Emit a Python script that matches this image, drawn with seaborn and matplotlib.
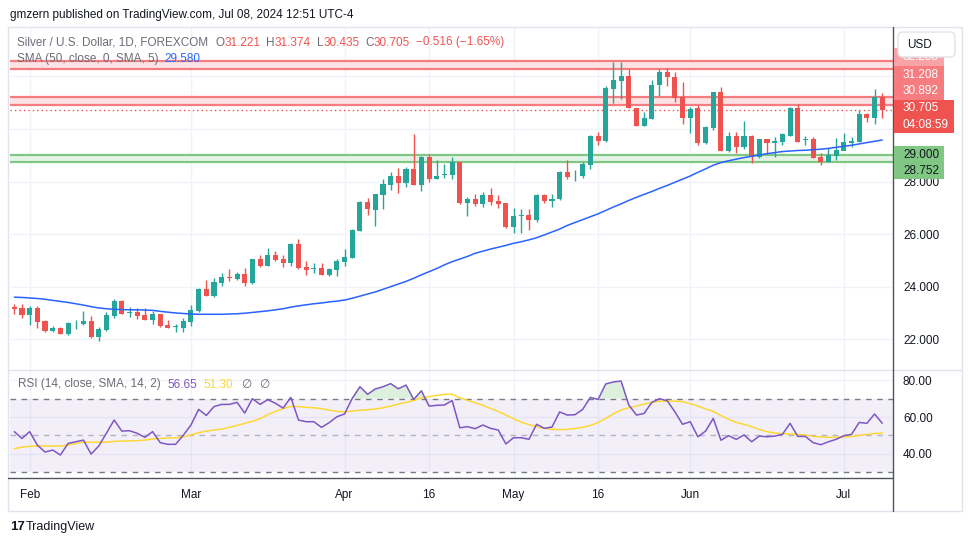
# Silver / USD daily chart - TradingView style remake

import numpy as np
import pandas as pd
import matplotlib
matplotlib.use("Agg")
import matplotlib.pyplot as plt
from matplotlib.patches import Rectangle, FancyBboxPatch
from matplotlib.ticker import FormatStrFormatter, FuncFormatter
import seaborn as sns

# ---------------------------
# Data (daily bars, Jan 30 - Jul 08 2024)
# ---------------------------

opens = [23.24, 23.20, 22.92, 23.20, 22.69, 22.31, 22.44, 22.20, 22.60, 22.58,
         22.69, 22.10, 22.36, 22.87, 23.44, 22.99, 23.04, 22.92, 22.75, 22.96,
         22.56, 22.47, 22.44, 22.67, 23.09, 23.91, 23.65, 24.15, 24.36, 24.29,
         24.47, 24.15, 25.05, 24.79, 25.19, 25.05, 24.91, 25.62, 24.75, 24.67,
         24.70, 24.46, 24.65, 24.95, 25.10, 26.13, 27.23, 26.93, 27.50, 27.88,
         28.21, 27.95, 28.47, 27.88, 28.93, 28.09, 28.26, 28.24, 28.73, 27.19,
         27.33, 27.14, 27.48, 27.26, 27.18, 26.27, 26.69, 26.72, 26.53, 27.47,
         27.25, 27.32, 28.38, 28.23, 28.20, 28.61, 29.72, 29.56, 31.52, 31.84,
         32.03, 30.81, 30.13, 30.37, 31.67, 32.15, 31.99, 31.20, 30.41, 30.78,
         29.47, 30.03, 31.39, 29.16, 29.75, 29.31, 29.75, 28.95, 29.60, 29.46,
         29.52, 29.75, 30.78, 29.57, 29.60, 28.95, 28.76, 28.97, 29.16, 29.46,
         29.52, 30.55, 30.41, 31.221]
highs = [23.33, 23.33, 23.25, 23.25, 22.73, 22.49, 22.47, 22.65, 22.72, 23.07,
         22.90, 22.45, 23.02, 23.54, 23.49, 23.21, 23.18, 23.18, 23.06, 22.97,
         22.73, 22.57, 22.82, 23.30, 23.94, 24.25, 24.33, 24.51, 24.66, 24.56,
         24.71, 25.05, 25.19, 25.47, 25.36, 25.19, 25.67, 25.81, 24.98, 24.89,
         24.90, 24.70, 25.04, 25.43, 26.21, 27.25, 27.37, 27.54, 28.11, 28.36,
         28.52, 28.55, 29.82, 28.97, 29.04, 28.82, 28.67, 28.95, 28.75, 27.42,
         27.51, 27.60, 27.74, 27.48, 27.20, 26.99, 26.94, 26.94, 27.54, 27.54,
         27.53, 28.39, 28.80, 28.42, 28.73, 29.77, 29.89, 31.62, 32.56, 32.56,
         32.28, 30.81, 30.66, 31.87, 32.28, 32.32, 32.15, 31.80, 30.85, 30.91,
         30.10, 31.39, 31.59, 29.87, 29.90, 30.29, 29.77, 29.62, 29.62, 29.71,
         29.83, 30.83, 30.93, 29.75, 29.70, 29.10, 29.27, 29.66, 29.85, 29.71,
         30.73, 30.62, 31.53, 31.374]
lows = [22.97, 22.81, 22.54, 22.44, 22.28, 22.26, 22.20, 22.16, 22.40, 22.56,
        22.04, 21.95, 22.33, 22.81, 22.95, 22.86, 22.77, 22.73, 22.58, 22.47,
        22.44, 22.29, 22.29, 22.52, 23.05, 23.66, 23.62, 24.03, 24.23, 24.25,
        24.03, 24.10, 24.74, 24.79, 24.98, 24.75, 24.80, 24.66, 24.44, 24.53,
        24.43, 24.41, 24.42, 24.79, 25.08, 26.10, 26.74, 26.32, 26.94, 27.67,
        27.57, 27.80, 27.86, 27.65, 27.98, 28.08, 28.15, 28.09, 27.15, 26.70,
        27.07, 27.04, 27.10, 26.99, 26.25, 26.05, 26.05, 26.15, 26.47, 27.19,
        27.03, 27.31, 28.08, 28.01, 28.13, 28.47, 29.39, 29.49, 30.99, 31.14,
        30.78, 30.10, 30.10, 30.37, 31.27, 31.65, 31.04, 30.20, 29.84, 29.39,
        29.44, 29.97, 29.16, 29.12, 29.08, 29.24, 28.70, 28.88, 29.05, 28.95,
        29.40, 29.74, 29.49, 29.40, 28.89, 28.63, 28.74, 28.80, 29.23, 29.31,
        29.52, 30.26, 30.20, 30.435]
closes = [23.16, 22.92, 23.20, 22.67, 22.31, 22.42, 22.21, 22.62, 22.62, 22.69,
          22.10, 22.39, 22.92, 23.45, 22.97, 23.04, 22.90, 22.73, 22.96, 22.50,
          22.44, 22.49, 22.69, 23.11, 23.91, 23.66, 24.18, 24.35, 24.34, 24.47,
          24.15, 25.05, 24.79, 25.19, 25.01, 24.90, 25.62, 24.71, 24.63, 24.70,
          24.46, 24.67, 24.98, 25.12, 26.15, 27.23, 26.94, 27.52, 27.92, 28.21,
          27.95, 28.47, 27.88, 28.93, 28.09, 28.21, 28.28, 28.73, 27.19, 27.33,
          27.14, 27.48, 27.23, 27.16, 26.27, 26.69, 26.72, 26.53, 27.48, 27.25,
          27.34, 28.38, 28.16, 28.25, 28.65, 29.72, 29.56, 31.54, 31.87, 32.03,
          30.78, 30.13, 30.41, 31.68, 32.15, 31.96, 31.16, 30.41, 30.76, 29.47,
          30.06, 31.39, 29.16, 29.75, 29.31, 29.75, 28.95, 29.60, 29.46, 29.56,
          29.79, 30.78, 29.52, 29.60, 28.91, 28.76, 28.99, 29.18, 29.50, 29.56,
          30.55, 30.41, 31.221, 30.705]

sma50 = [23.60, 23.59, 23.57, 23.55, 23.52, 23.48, 23.44, 23.40, 23.35, 23.30,
         23.24, 23.19, 23.16, 23.14, 23.13, 23.12, 23.12, 23.11, 23.10, 23.06,
         23.03, 23.00, 22.98, 22.96, 22.95, 22.95, 22.95, 22.95, 22.96, 22.97,
         22.99, 23.02, 23.05, 23.08, 23.12, 23.16, 23.22, 23.27, 23.31, 23.35,
         23.38, 23.42, 23.45, 23.49, 23.56, 23.64, 23.72, 23.80, 23.90, 24.00,
         24.10, 24.20, 24.32, 24.45, 24.57, 24.69, 24.83, 24.95, 25.05, 25.15,
         25.27, 25.35, 25.43, 25.50, 25.57, 25.65, 25.71, 25.78, 25.86, 25.97,
         26.08, 26.19, 26.33, 26.44, 26.55, 26.66, 26.77, 26.90, 27.03, 27.15,
         27.28, 27.40, 27.51, 27.62, 27.74, 27.85, 27.97, 28.09, 28.21, 28.35,
         28.48, 28.62, 28.72, 28.79, 28.85, 28.91, 28.96, 29.01, 29.06, 29.10,
         29.14, 29.16, 29.18, 29.19, 29.21, 29.23, 29.26, 29.30, 29.34, 29.38,
         29.43, 29.48, 29.53, 29.58]

rsi = [52.1, 48.4, 52.1, 44.8, 41.0, 42.1, 39.4, 45.7, 46.6, 47.5,
       39.9, 44.3, 51.3, 58.4, 52.4, 52.6, 51.2, 49.0, 52.1, 46.1,
       45.2, 45.2, 50.1, 55.7, 64.2, 60.9, 65.7, 66.9, 66.9, 68.0,
       62.2, 70.0, 66.9, 69.5, 67.5, 64.9, 70.7, 58.4, 57.5, 57.5,
       54.4, 57.0, 60.2, 61.7, 70.2, 76.5, 72.4, 75.3, 76.5, 78.2,
       75.4, 77.4, 69.6, 74.3, 66.0, 66.4, 66.6, 69.0, 54.2, 54.8,
       53.7, 55.7, 53.9, 53.0, 45.4, 48.8, 48.8, 47.9, 56.1, 53.9,
       54.6, 62.8, 61.1, 61.3, 64.2, 70.7, 69.6, 78.0, 79.1, 79.6,
       66.6, 61.1, 62.0, 68.0, 70.0, 68.9, 62.9, 56.1, 57.5, 49.3,
       52.4, 59.3, 47.4, 49.9, 47.9, 50.3, 46.6, 49.7, 49.3, 49.7,
       50.6, 56.6, 49.5, 49.5, 46.1, 45.0, 46.6, 47.9, 49.9, 50.6,
       57.1, 56.6, 61.7, 56.65]

rsi_sma = [42.8, 43.7, 44.1, 44.3, 44.3, 44.3, 44.3, 44.8, 45.7, 46.4,
           46.4, 46.3, 46.4, 46.8, 47.0, 47.0, 47.2, 47.5, 48.1, 48.4,
           48.6, 48.8, 49.2, 50.3, 51.5, 52.4, 53.0, 53.5, 54.4, 55.5,
           56.6, 57.7, 59.1, 61.3, 63.1, 64.6, 65.8, 65.7, 65.3, 65.1,
           64.6, 63.8, 63.1, 62.8, 63.3, 63.7, 64.0, 64.4, 65.1, 66.0,
           67.1, 68.0, 69.1, 70.4, 71.1, 71.8, 72.4, 72.4, 70.5, 69.1,
           67.8, 66.4, 64.7, 63.1, 61.1, 59.1, 57.3, 55.9, 54.8, 53.9,
           53.3, 53.2, 53.3, 53.9, 54.4, 55.5, 57.0, 59.3, 61.8, 63.8,
           65.1, 66.0, 67.1, 68.0, 68.6, 68.7, 68.7, 68.4, 67.3, 66.0,
           64.4, 63.1, 60.8, 58.8, 57.1, 56.1, 54.8, 53.3, 52.1, 51.3,
           51.0, 50.8, 50.6, 50.3, 49.5, 49.2, 49.0, 49.0, 49.2, 49.5,
           50.1, 50.6, 51.1, 51.30]

tick_bars = [2, 23, 43, 54, 65, 76, 88, 108]
tick_labels = ["Feb", "Mar", "Apr", "16", "May", "16", "Jun", "Jul"]
price_ticks = [22, 24, 26, 28, 30, 32]
hidden_price_ticks = [30, 32]   # covered by the price tags on the axis

red_zone_top = [32.288, 32.58]
red_zone_mid = [30.892, 31.208]
green_zone = [28.752, 29.000]
last_close = 30.705

# ---------------------------
# Colours
# ---------------------------
GREEN = "#26a69a"
RED = "#ef5350"
BLUE = "#2962ff"
PURPLE = "#7e57c2"
YELLOW = "#fdd835"
TXT = "#131722"
GREY = "#6a6d78"
GRID = "#f0f3fa"

df = pd.DataFrame({"open": opens, "high": highs, "low": lows, "close": closes,
                   "sma50": sma50, "rsi": rsi, "rsi_sma": rsi_sma})
df["i"] = np.arange(len(df))

sns.set_theme(style="white")
plt.rcParams["font.family"] = ["Liberation Sans", "DejaVu Sans"]

W, H = 970, 545
fig = plt.figure(figsize=(W / 100, H / 100), dpi=100)


def box(l, t, r, b):
    return [l / W, 1 - b / H, (r - l) / W, (b - t) / H]


ax = fig.add_axes(box(10, 28, 893, 370))
ax_rsi = fig.add_axes(box(10, 370, 893, 478))

# ---------------------------
# Price pane
# ---------------------------
for lo, hi, fc, ec in [(red_zone_top[0], red_zone_top[1], "#fde3e4", "#f77c80"),
                       (red_zone_mid[0], red_zone_mid[1], "#fde3e4", "#f77c80"),
                       (green_zone[0], green_zone[1], "#e6f4e7", "#81c784")]:
    ax.axhspan(lo, hi, color=fc, lw=0, zorder=1)
    ax.axhline(lo, color=ec, lw=1.6, zorder=2)
    ax.axhline(hi, color=ec, lw=1.6, zorder=2)

ax.axhline(last_close, color=RED, lw=1, ls=(0, (1, 2.2)), zorder=2)

up = df["close"] >= df["open"]
colors = np.where(up, GREEN, RED)
ax.vlines(df["i"], df["low"], df["high"], colors=colors, lw=1, zorder=3)
body = (df["close"] - df["open"]).abs().clip(lower=0.03)
ax.bar(df["i"], body, bottom=df[["open", "close"]].min(axis=1), width=0.66,
       color=colors, lw=0, zorder=4)

sns.lineplot(data=df, x="i", y="sma50", ax=ax, color=BLUE, linewidth=1.1, zorder=5)

ax.set_xlim(-0.56, 114.4)
ax.set_ylim(20.83, 33.84)
ax.set_xticks(tick_bars)
ax.set_xticklabels([])
ax.set_yticks(price_ticks)
ax.yaxis.tick_right()
ax.yaxis.set_major_formatter(
    FuncFormatter(lambda v, p: "" if round(v) in hidden_price_ticks else f"{v:.3f}"))
ax.tick_params(length=0, labelsize=8.5, labelcolor=TXT)
ax.tick_params(axis="y", pad=7.2)
ax.grid(True, color=GRID, lw=1)
ax.set_axisbelow(True)
ax.set_xlabel("")
ax.set_ylabel("")
for s in ax.spines.values():
    s.set_visible(False)

# ---------------------------
# RSI pane
# ---------------------------
ax_rsi.axhspan(30, 70, color=PURPLE, alpha=0.09, lw=0, zorder=1)
ax_rsi.axhline(70, color="#787b86", lw=1, ls=(0, (4, 4)), zorder=2)
ax_rsi.axhline(30, color="#787b86", lw=1, ls=(0, (4, 4)), zorder=2)
ax_rsi.axhline(50, color="#b2b5be", lw=1, ls=(0, (4, 4)), zorder=2)
r = df["rsi"].to_numpy()
ax_rsi.fill_between(df["i"], r, 70, where=r > 70, interpolate=True,
                    color="#66bb6a", alpha=0.22, lw=0, zorder=2)
sns.lineplot(data=df, x="i", y="rsi_sma", ax=ax_rsi, color=YELLOW, linewidth=1.1, zorder=3)
sns.lineplot(data=df, x="i", y="rsi", ax=ax_rsi, color=PURPLE, linewidth=1.1, zorder=4)

ax_rsi.set_xlim(-0.56, 114.4)
ax_rsi.set_ylim(26.9, 85.6)
ax_rsi.set_yticks([40, 60, 80])
ax_rsi.yaxis.tick_right()
ax_rsi.yaxis.set_major_formatter(FormatStrFormatter("%.2f"))
ax_rsi.set_xticks(tick_bars)
ax_rsi.set_xticklabels(tick_labels)
ax_rsi.tick_params(length=0, labelsize=8.5, labelcolor=TXT)
ax_rsi.tick_params(axis="y", pad=7.2)
ax_rsi.tick_params(axis="x", pad=8)
ax_rsi.grid(True, color=GRID, lw=1)
ax_rsi.set_axisbelow(True)
ax_rsi.set_xlabel("")
ax_rsi.set_ylabel("")
for s in ax_rsi.spines.values():
    s.set_visible(False)

# ---------------------------
# Overlay in pixel coords: frame, labels, legends
# ---------------------------
ov = fig.add_axes([0, 0, 1, 1])
ov.set_xlim(0, W)
ov.set_ylim(H, 0)
ov.axis("off")

ov.add_patch(Rectangle((8, 27), 954, 484, fill=False, ec="#e0e3eb", lw=1))
ov.plot([8, 962], [370, 370], color="#e0e3eb", lw=1)
ov.plot([893, 893], [27, 511], color="#50535e", lw=1)
ov.plot([8, 893], [478, 478], color="#50535e", lw=1)


def tag(top, bottom, lines, fc, tc, right=944):
    ov.add_patch(Rectangle((894, top), right - 894, bottom - top, fc=fc, ec="none", zorder=5))
    step = (bottom - top) / len(lines)
    for k, s in enumerate(lines):
        ov.text(903, top + step * (k + 0.5), s, color=tc, fontsize=8.5,
                va="center", ha="left", zorder=6)


tag(48, 66, ["32.288"], "#f9a3a6", "white")
tag(66, 83, ["31.208"], "#f77c80", "white")
tag(83, 100, ["30.892"], "#f77c80", "white")
tag(100, 133, ["30.705", "04:08:59"], RED, "white", right=954)
tag(146, 163, ["29.000"], "#81c784", TXT)
tag(163, 179, ["28.752"], "#81c784", TXT)

ov.add_patch(FancyBboxPatch((898, 32), 57, 25, boxstyle="round,pad=0,rounding_size=5",
                            fc="white", ec="#e0e3eb", lw=1, zorder=7))
ov.text(907, 44.5, "USD", color=TXT, fontsize=8.5, va="center", ha="left", zorder=8)

ov.text(10, 15, "gmzern published on TradingView.com, Jul 08, 2024 12:51 UTC-4",
        color=TXT, fontsize=8.5, va="center", ha="left")

renderer = fig.canvas.get_renderer()


def text_row(x, y, pieces, size=8.5):
    for s, col, gap in pieces:
        t = ov.text(x, y, s, color=col, fontsize=size, va="center", ha="left", zorder=6)
        x += t.get_window_extent(renderer=renderer).width + gap


text_row(17, 42.5, [("Silver / U.S. Dollar, 1D, FOREXCOM", GREY, 7),
                    ("O", GREY, 0), ("31.221", RED, 6),
                    ("H", GREY, 0), ("31.374", RED, 6),
                    ("L", GREY, 0), ("30.435", RED, 6),
                    ("C", GREY, 0), ("30.705", RED, 6),
                    ("\u22120.516 (\u22121.65%)", RED, 0)])
text_row(17, 59, [("SMA (50, close, 0, SMA, 5)", GREY, 6), ("29.580", BLUE, 0)])
text_row(18, 384.5, [("RSI (14, close, SMA, 14, 2)", GREY, 7), ("56.65", PURPLE, 6),
                     ("51.30", YELLOW, 8), ("\u2205", GREY, 8), ("\u2205", GREY, 0)])

ov.text(10, 527, "17", color=TXT, fontsize=9.5, fontweight="bold", va="center", ha="left")
ov.text(26, 527, "TradingView", color=TXT, fontsize=9, va="center", ha="left")

fig.savefig("out.png", dpi=100)
print("saved")
